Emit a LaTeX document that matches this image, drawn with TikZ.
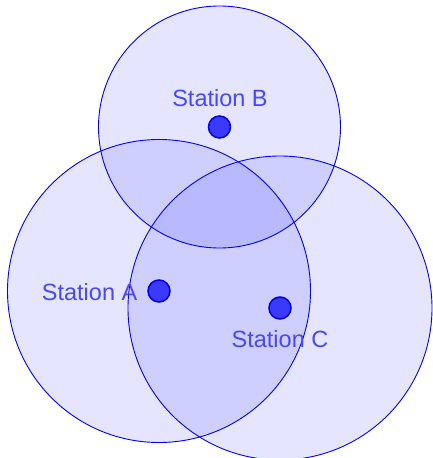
\documentclass[tikz,border=0pt]{standalone}
\usepackage{fontspec}
\setmainfont{Liberation Sans}
\definecolor{labelblue}{RGB}{72,72,245}
\definecolor{dotfill}{RGB}{58,58,255}
\definecolor{dotline}{RGB}{0,0,215}
\begin{document}
\begin{tikzpicture}[x=1pt,y=-1pt,
  rangefill/.style={fill=blue, fill opacity=0.1},
  rangeline/.style={draw=blue, line width=0.9pt},
  station/.style={circle, fill=dotfill, draw=dotline, line width=1.5pt, minimum size=22pt, inner sep=0pt},
  lbl/.style={text=labelblue, font=\fontsize{23.5}{28}\selectfont, inner sep=0pt}]
\useasboundingbox (0,0) rectangle (432,458);
\coordinate (ca) at (159,291);
\coordinate (cb) at (219.5,127);
\coordinate (cc) at (280,308);
\fill[rangefill] (ca) circle[radius=151.5];
\fill[rangefill] (cb) circle[radius=121];
\fill[rangefill] (cc) circle[radius=152];
\draw[rangeline] (ca) circle[radius=151.5];
\draw[rangeline] (cb) circle[radius=121];
\draw[rangeline] (cc) circle[radius=152];
\node[station] (sa) at (ca) {};
\node[station] (sb) at (cb) {};
\node[station] (sc) at (cc) {};
\node[lbl, anchor=base east] (la) at (137.5,300) {Station A};
\node[lbl, anchor=base] (lb) at (220,106) {Station B};
\node[lbl, anchor=base] (lc) at (280,347.5) {Station C};
\end{tikzpicture}
\end{document}
